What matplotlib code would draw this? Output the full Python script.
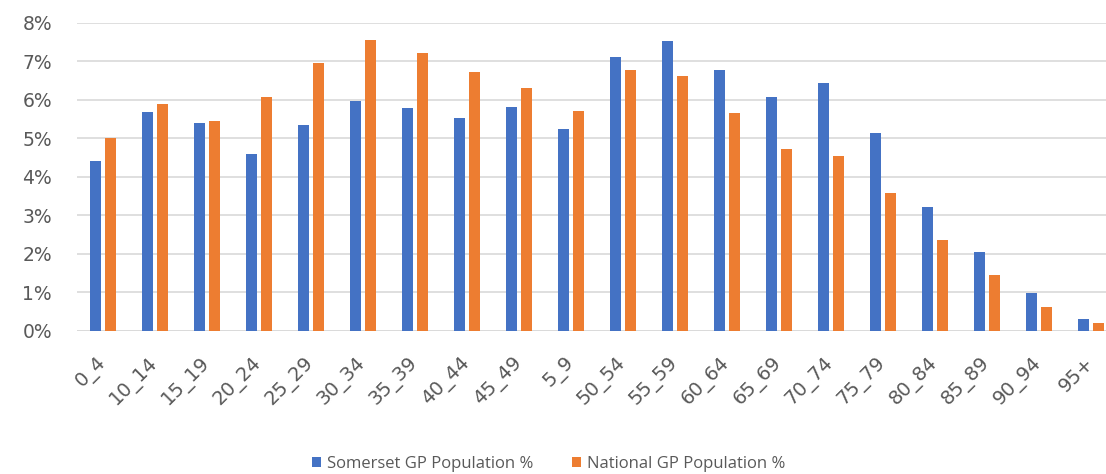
import matplotlib.pyplot as plt
import numpy as np
from matplotlib.ticker import PercentFormatter

plt.rcParams['font.family'] = ['Open Sans', 'DejaVu Sans']

# bandas de edad tal como vienen del fichero (orden alfabético)
grupos = ['0_4', '10_14', '15_19', '20_24', '25_29', '30_34', '35_39', '40_44', '45_49',
          '5_9', '50_54', '55_59', '60_64', '65_69', '70_74', '75_79', '80_84', '85_89',
          '90_94', '95+']

# porcentaje de población registrada en GP
somerset = [4.42, 5.68, 5.39, 4.60, 5.35, 5.98, 5.80, 5.54, 5.83,
            5.24, 7.11, 7.52, 6.78, 6.09, 6.45, 5.13, 3.23, 2.04, 0.98, 0.30]
nacional = [5.00, 5.90, 5.46, 6.09, 6.97, 7.56, 7.21, 6.72, 6.32,
            5.72, 6.78, 6.62, 5.65, 4.72, 4.55, 3.58, 2.36, 1.45, 0.63, 0.20]

azul = '#4472C4'
naranja = '#ED7D31'
gris_texto = '#595959'

fig = plt.figure(figsize=(11.06, 4.74), dpi=100)
ax = fig.add_axes([0.0696, 0.3017, 0.9403, 0.6498])

x = np.arange(len(grupos))
ancho = 0.2
ax.bar(x - 0.142, somerset, ancho, color=azul, label='Somerset GP Population %', zorder=3)
ax.bar(x + 0.142, nacional, ancho, color=naranja, label='National GP Population %', zorder=3)

ax.set_xlim(-0.5, len(grupos) - 0.5)
ax.set_ylim(0, 8)
ax.set_yticks(range(0, 9))
ax.yaxis.set_major_formatter(PercentFormatter(decimals=0))
ax.grid(axis='y', color='#d9d9d9', linewidth=1.2, zorder=0)

for lado in ['top', 'right', 'left', 'bottom']:
    ax.spines[lado].set_visible(False)
ax.axhline(0, color='#d9d9d9', linewidth=1.2, zorder=1)

# etiquetas de ejes con letra más ancha
ax.set_xticks(x)
ax.set_xticklabels(grupos, rotation=45, ha='right', va='center', rotation_mode='anchor',
                   fontsize=14, color=gris_texto, family='DejaVu Sans')
ax.tick_params(axis='x', length=0, pad=21)
ax.tick_params(axis='y', length=0, pad=18, labelsize=13.5, labelcolor=gris_texto)
for t in ax.get_yticklabels():
    t.set_family('DejaVu Sans')

ax.legend(loc='center', bbox_to_anchor=(0.496, 0.022), bbox_transform=fig.transFigure,
          ncol=2, frameon=False, fontsize=12, labelcolor=gris_texto,
          handlelength=0.55, handleheight=0.55, handletextpad=0.35, columnspacing=2.3)

plt.savefig('out.png', dpi=100)
